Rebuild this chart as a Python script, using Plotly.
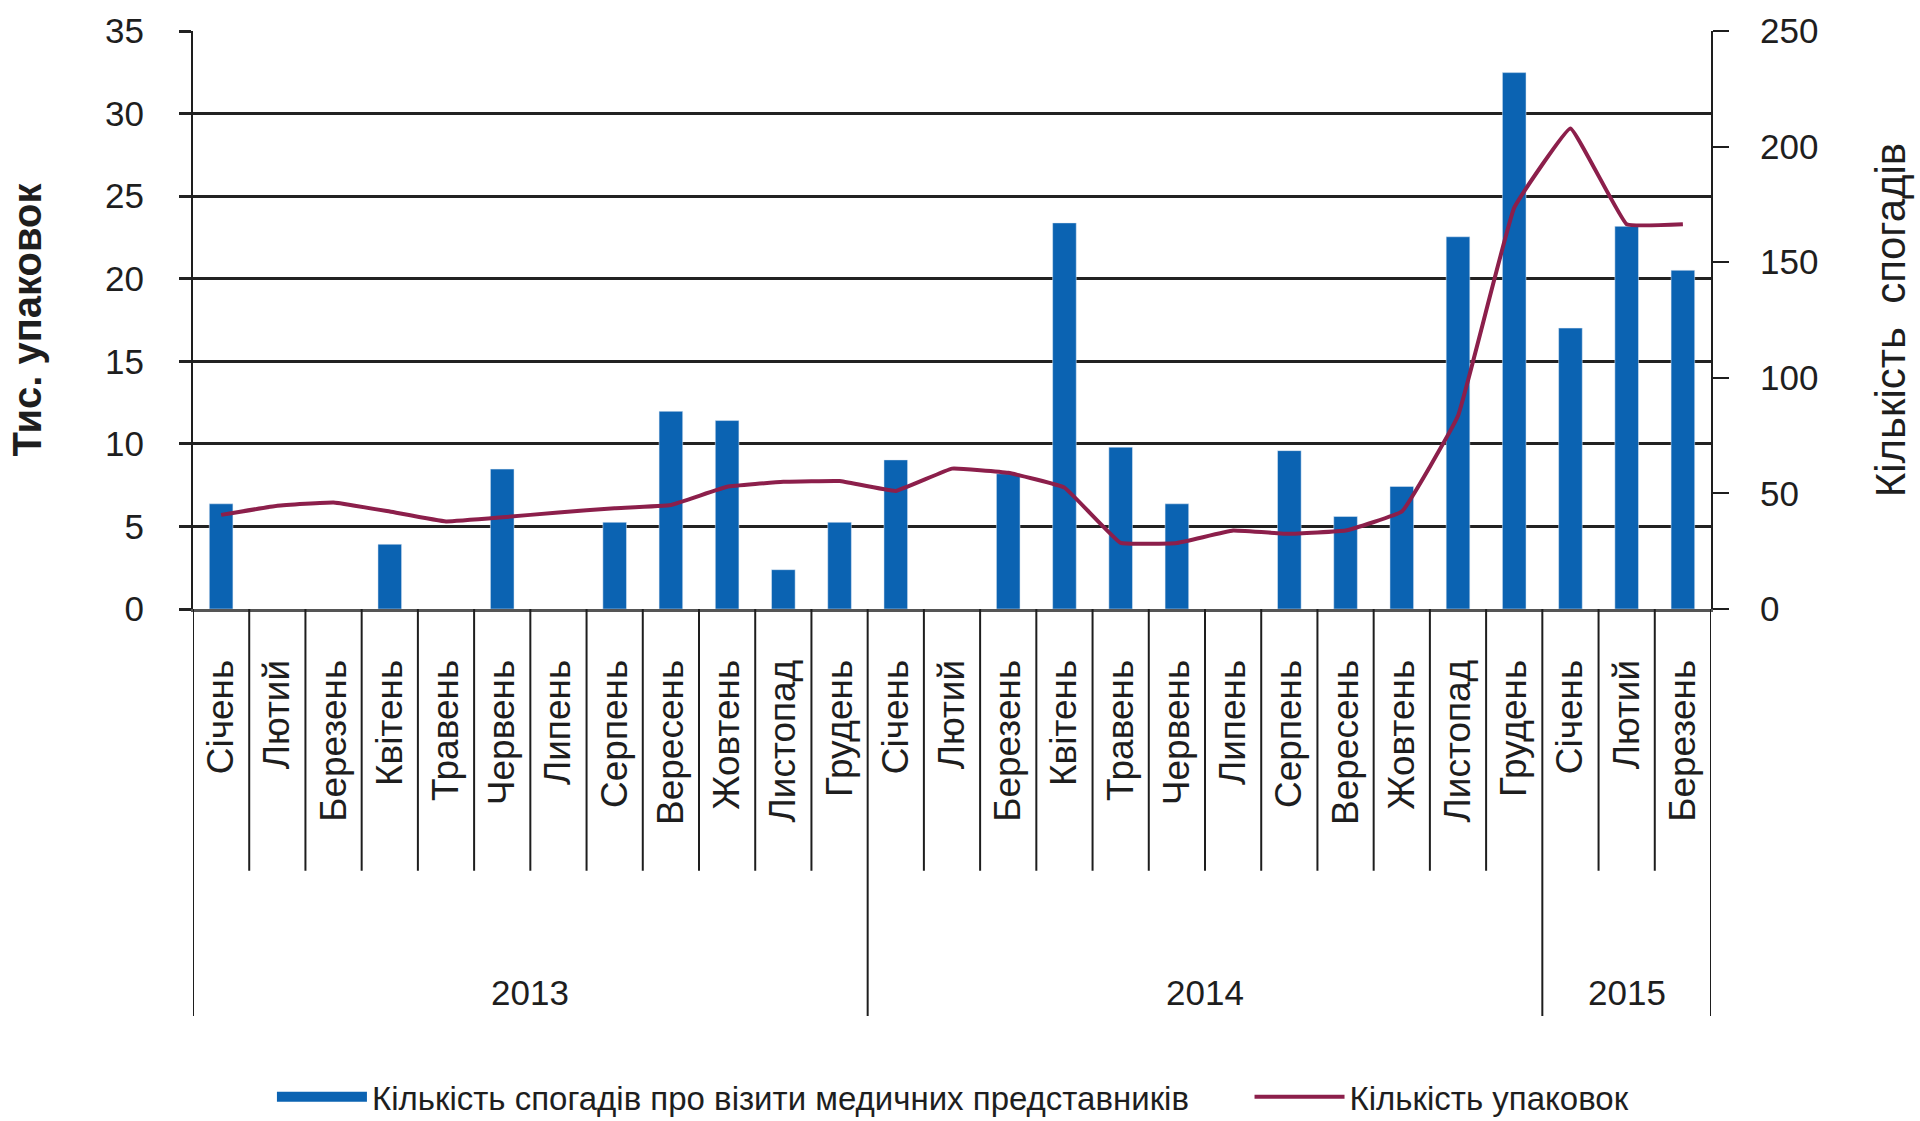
import plotly.graph_objects as go

# ---------------- data ----------------
months = ["Січень", "Лютий", "Березень", "Квітень", "Травень", "Червень",
          "Липень", "Серпень", "Вересень", "Жовтень", "Листопад", "Грудень",
          "Січень", "Лютий", "Березень", "Квітень", "Травень", "Червень",
          "Липень", "Серпень", "Вересень", "Жовтень", "Листопад", "Грудень",
          "Січень", "Лютий", "Березень"]
years = ["2013", "2014", "2015"]
months_per_year = [12, 12, 3]

# Кількість спогадів про візити медичних представників (right axis)
recollections = [45.5, None, None, 28, None, 60.5, None, 37.5, 85.5, 81.5, 17, 37.5,
                 64.5, None, 58.5, 167, 70, 45.5, None, 68.5, 40, 53, 161, 232,
                 121.5, 165.5, 146.5]
# Кількість упаковок, тис. (left axis)
packages = [5.7, 6.25, 6.45, 5.9, 5.3, 5.55, 5.85, 6.1, 6.3, 7.4, 7.7, 7.75,
            7.15, 8.5, 8.25, 7.35, 4.0, 4.0, 4.75, 4.55, 4.75, 5.9, 11.7, 24.3,
            29.1, 23.3, 23.3]

left_ticks = [0, 5, 10, 15, 20, 25, 30, 35]
right_ticks = [0, 50, 100, 150, 200, 250]

bar_name = "Кількість спогадів про візити медичних представників"
line_name = "Кількість упаковок"
left_title = "Тис. упаковок"
right_title = "Кількість  спогадів"

BLUE = "#0b63b2"
RED = "#8c1f4b"
INK = "#1e1e1e"
FONT = "Liberation Sans, Arial, sans-serif"

idx = list(range(len(months)))

fig = go.Figure()
fig.add_trace(go.Bar(x=idx, y=recollections, yaxis="y", marker_color=BLUE,
                     width=0.42, name=bar_name, showlegend=False))
fig.add_trace(go.Scatter(x=idx, y=packages, yaxis="y2", mode="lines",
                         line=dict(color=RED, width=4, shape="spline", smoothing=0.25),
                         name=line_name, legend="legend2"))
# legend swatch for bars (wide rectangle like the original)
fig.add_trace(go.Scatter(x=[None], y=[None], yaxis="y", mode="lines",
                         line=dict(color=BLUE, width=30), name=bar_name,
                         legend="legend"))

# separators below the category axis
shapes = []
year_bounds = [-0.5]
for n in months_per_year:
    year_bounds.append(year_bounds[-1] + n)
for i in range(len(months) - 1):
    b = i + 0.5
    if b in year_bounds:
        continue
    shapes.append(dict(type="line", xref="x", yref="paper", x0=b, x1=b,
                       y0=0, y1=-0.453, line=dict(color=INK, width=2)))
for b in year_bounds:
    shapes.append(dict(type="line", xref="x", yref="paper", x0=b, x1=b,
                       y0=0, y1=-0.704, line=dict(color=INK, width=2)))

annotations = []
for k, yr in enumerate(years):
    mid = (year_bounds[k] + year_bounds[k + 1]) / 2
    annotations.append(dict(x=mid, y=-0.663, xref="x", yref="paper", text=yr,
                            showarrow=False, font=dict(size=35, color=INK, family=FONT),
                            xanchor="center", yanchor="middle"))

fig.update_layout(
    width=1920, height=1121,
    margin=dict(l=193, r=209, t=31, b=512, autoexpand=False),
    paper_bgcolor="white", plot_bgcolor="white",
    font=dict(family=FONT, color=INK),
    shapes=shapes, annotations=annotations,
    xaxis=dict(range=[-0.5, len(months) - 0.5], tickmode="array", tickvals=idx,
               ticktext=months, tickangle=-90, showgrid=False, zeroline=False,
               showline=True, linecolor="#555", linewidth=3, ticks="", automargin=False,
               tickfont=dict(size=37, family=FONT, color=INK), ticklabelstandoff=33),
    yaxis=dict(side="right", range=[0, 250], tickvals=right_ticks, showgrid=False,
               zeroline=False, showline=True, linecolor=INK, linewidth=2,
               ticks="outside", ticklen=16, tickwidth=2, tickcolor=INK, automargin=False,
               tickfont=dict(size=35, family=FONT, color=INK), ticklabelstandoff=24,
               title=dict(text=right_title, standoff=58,
                          font=dict(size=42, family=FONT, color=INK))),
    yaxis2=dict(side="left", overlaying="y", range=[0, 35], tickvals=left_ticks,
                showgrid=True, gridcolor="#222", gridwidth=2.5, zeroline=False,
                showline=True, linecolor=INK, linewidth=2, automargin=False,
                ticks="outside", ticklen=12, tickwidth=2.5, tickcolor="#222",
                tickfont=dict(size=35, family=FONT, color=INK), ticklabelstandoff=28,
                title=dict(text="<b>" + left_title + "</b>", standoff=51,
                           font=dict(size=40, family=FONT, color=INK))),
    legend=dict(orientation="h", x=0.052, y=-0.844, xanchor="left", yanchor="middle",
                itemwidth=90, font=dict(size=33, family=FONT, color=INK),
                bgcolor="rgba(0,0,0,0)"),
    legend2=dict(orientation="h", x=0.696, y=-0.844, xanchor="left", yanchor="middle",
                 itemwidth=90, font=dict(size=33, family=FONT, color=INK),
                 bgcolor="rgba(0,0,0,0)"),
)

fig.write_html("out.html")
